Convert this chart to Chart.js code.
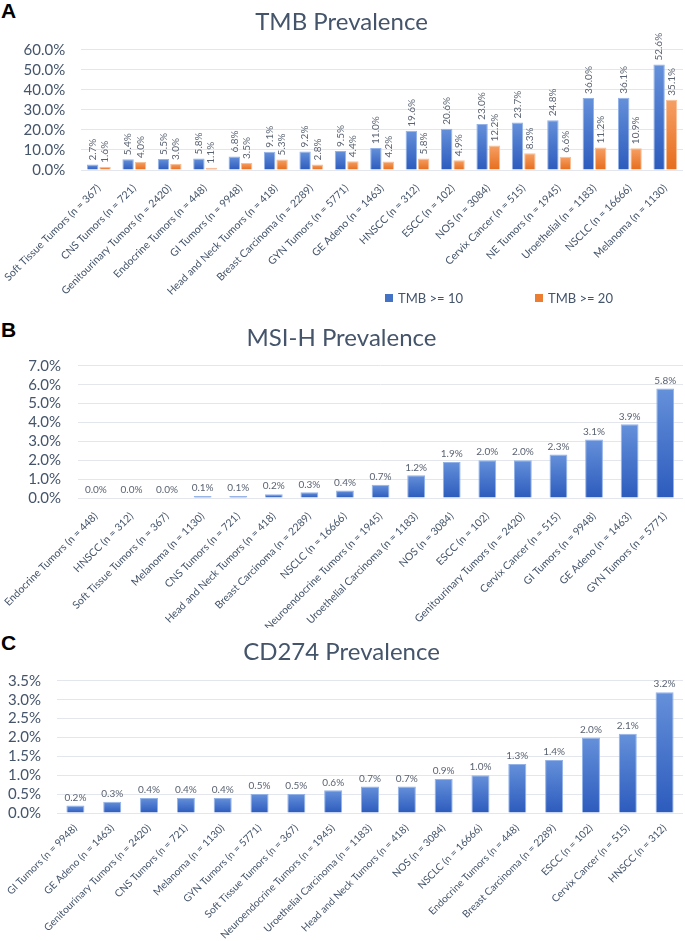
<!DOCTYPE html>
<html>
<head>
<meta charset="utf-8">
<script src="https://cdn.jsdelivr.net/npm/chart.js@4.4.1/dist/chart.umd.min.js"></script>
<style>
  body { margin: 0; background: #fff; width: 685px; height: 941px; position: relative; overflow: hidden; font-family: Lato, sans-serif; }
  canvas { position: absolute; left: 0; }
  .letter { position: absolute; left: 1px; font: bold 21px "Liberation Sans", Arial, sans-serif; line-height: 21px; color: #000; }
  .legend { position: absolute; top: 290px; left: 385px; display: flex; font: 13px Lato, sans-serif; color: #44546A; line-height: 16px; white-space: nowrap; }
  .legend span { display: flex; align-items: center; margin-right: 72px; }
  .legend i { display: inline-block; width: 8px; height: 8px; margin-right: 5px; }
</style>
</head>
<body>
<div class="letter" style="top:0px">A</div>
<div class="letter" style="top:319px">B</div>
<div class="letter" style="top:632px">C</div>
<canvas id="chart-tmb" width="685" height="312" style="top:0px"></canvas>
<div id="legend-tmb" class="legend"></div>
<canvas id="chart-msi" width="685" height="316" style="top:312px"></canvas>
<canvas id="chart-cd274" width="685" height="313" style="top:628px"></canvas>
<script>
const TEXT = '#44546A';
const GRID = '#e3e7ed';

// TMB panel
const tmbCategories = [
  'Soft Tissue Tumors (n = 367)', 'CNS Tumors (n = 721)', 'Genitourinary Tumors (n = 2420)',
  'Endocrine Tumors (n = 448)', 'GI Tumors (n = 9948)', 'Head and Neck Tumors (n = 418)',
  'Breast Carcinoma (n = 2289)', 'GYN Tumors (n = 5771)', 'GE Adeno (n = 1463)',
  'HNSCC (n = 312)', 'ESCC (n = 102)', 'NOS (n = 3084)', 'Cervix Cancer (n = 515)',
  'NE Tumors (n = 1945)', 'Uroethelial (n = 1183)', 'NSCLC (n = 16666)', 'Melanoma (n = 1130)',
];
const tmbSeries = ['TMB >= 10', 'TMB >= 20'];
const tmb10 = [2.7, 5.4, 5.5, 5.8, 6.8, 9.1, 9.2, 9.5, 11.0, 19.6, 20.6, 23.0, 23.7, 24.8, 36.0, 36.1, 52.6];
const tmb20 = [1.6, 4.0, 3.0, 1.1, 3.5, 5.3, 2.8, 4.4, 4.2, 5.8, 4.9, 12.2, 8.3, 6.6, 11.2, 10.9, 35.1];

// MSI-H panel
const msiCategories = [
  'Endocrine Tumors (n = 448)', 'HNSCC (n = 312)', 'Soft Tissue Tumors (n = 367)',
  'Melanoma (n = 1130)', 'CNS Tumors (n = 721)', 'Head and Neck Tumors (n = 418)',
  'Breast Carcinoma (n = 2289)', 'NSCLC (n = 16666)', 'Neuroendocrine Tumors (n = 1945)',
  'Uroethelial Carcinoma (n = 1183)', 'NOS (n = 3084)', 'ESCC (n = 102)',
  'Genitourinary Tumors (n = 2420)', 'Cervix Cancer (n = 515)', 'GI Tumors (n = 9948)',
  'GE Adeno (n = 1463)', 'GYN Tumors (n = 5771)',
];
const msiValues = [0.0, 0.0, 0.0, 0.1, 0.1, 0.2, 0.3, 0.4, 0.7, 1.2, 1.9, 2.0, 2.0, 2.3, 3.1, 3.9, 5.8];

// CD274 panel
const cdCategories = [
  'GI Tumors (n = 9948)', 'GE Adeno (n = 1463)', 'Genitourinary Tumors (n = 2420)',
  'CNS Tumors (n = 721)', 'Melanoma (n = 1130)', 'GYN Tumors (n = 5771)',
  'Soft Tissue Tumors (n = 367)', 'Neuroendocrine Tumors (n = 1945)',
  'Uroethelial Carcinoma (n = 1183)', 'Head and Neck Tumors (n = 418)', 'NOS (n = 3084)',
  'NSCLC (n = 16666)', 'Endocrine Tumors (n = 448)', 'Breast Carcinoma (n = 2289)',
  'ESCC (n = 102)', 'Cervix Cancer (n = 515)', 'HNSCC (n = 312)',
];
const cdValues = [0.2, 0.3, 0.4, 0.4, 0.4, 0.5, 0.5, 0.6, 0.7, 0.7, 0.9, 1.0, 1.3, 1.4, 2.0, 2.1, 3.2];

const BLUE = { top: '#6590da', bottom: '#2c5bbd', line: '#93b3e8', key: '#4472C4' };
const ORANGE = { top: '#f6a065', bottom: '#e66d1c', line: '#f7bf96', key: '#ED7D31' };

// each bar gets its own top-to-bottom gradient
function barFill(c) {
  return (ctx) => {
    const chart = ctx.chart;
    if (!chart.chartArea || ctx.type !== 'data') return c.bottom;
    const y = chart.scales.y;
    const y0 = y.getPixelForValue(ctx.raw);
    const y1 = y.getPixelForValue(0);
    if (y1 - y0 < 1) return c.bottom;
    const g = chart.ctx.createLinearGradient(0, y0, 0, y1);
    g.addColorStop(0, c.top);
    g.addColorStop(1, c.bottom);
    return g;
  };
}

const valueLabels = {
  id: 'valueLabels',
  afterDatasetsDraw(chart, args, opts) {
    const ctx = chart.ctx;
    ctx.save();
    ctx.font = '10px Lato';
    ctx.fillStyle = '#5a6372';
    chart.data.datasets.forEach((ds, i) => {
      chart.getDatasetMeta(i).data.forEach((bar, j) => {
        const text = ds.data[j].toFixed(1) + '%';
        if (opts.rotate) {
          ctx.save();
          ctx.translate(bar.x, bar.y - 4);
          ctx.rotate(-Math.PI / 2);
          ctx.textAlign = 'left';
          ctx.textBaseline = 'middle';
          ctx.fillText(text, 0, 0);
          ctx.restore();
        } else {
          ctx.textAlign = 'center';
          ctx.textBaseline = 'bottom';
          ctx.fillText(text, bar.x, bar.y - 3);
        }
      });
    });
    ctx.restore();
  },
};

function dataset(label, data, c, barPct, catPct) {
  return {
    label, data,
    backgroundColor: barFill(c),
    borderColor: c.line,
    borderWidth: 1,
    barPercentage: barPct,
    categoryPercentage: catPct,
  };
}

function makeChart(id, cfg) {
  return new Chart(document.getElementById(id), {
    type: 'bar',
    data: { labels: cfg.labels, datasets: cfg.datasets },
    options: {
      responsive: false,
      animation: false,
      layout: { autoPadding: false, padding: { right: 2 } },
      scales: {
        x: {
          grid: { display: false },
          border: { display: false },
          ticks: {
            color: TEXT, font: { family: 'Lato', size: cfg.xFont || 10.5 },
            minRotation: 45, maxRotation: 45, autoSkip: false, padding: cfg.xPad ?? 4,
          },
          afterFit: (s) => { s.height = cfg.xHeight; },
        },
        y: {
          min: 0,
          max: cfg.max,
          ticks: {
            stepSize: cfg.step, autoSkip: false, color: TEXT, font: { family: 'Lato', size: 15 }, padding: cfg.yPad,
            callback: (v) => v.toFixed(1) + '%',
          },
          grid: { color: GRID, drawTicks: false },
          border: { display: false },
          afterFit: (s) => { s.width = cfg.yWidth; },
        },
      },
      plugins: {
        legend: { display: false },
        tooltip: { enabled: false },
        title: {
          display: true, text: cfg.title, color: TEXT,
          font: { family: 'Lato', size: 24, weight: 'normal' },
          padding: cfg.titlePad,
        },
        valueLabels: { rotate: cfg.rotate },
      },
    },
    plugins: [valueLabels],
  });
}

makeChart('chart-tmb', {
  labels: tmbCategories,
  datasets: [
    dataset(tmbSeries[0], tmb10, BLUE, 0.92, 0.7),
    dataset(tmbSeries[1], tmb20, ORANGE, 0.92, 0.7),
  ],
  title: 'TMB Prevalence', titlePad: { top: 8, bottom: 13 },
  max: 60, step: 10, yWidth: 78, yPad: 16, xHeight: 142, rotate: true,
});

makeChart('chart-msi', {
  labels: msiCategories,
  datasets: [dataset('MSI-H', msiValues, BLUE, 1, 0.5)],
  title: 'MSI-H Prevalence', titlePad: { top: 12, bottom: 13 },
  max: 7, step: 1, yWidth: 77, yPad: 17, xHeight: 130, rotate: false,
});

makeChart('chart-cd274', {
  labels: cdCategories,
  datasets: [dataset('CD274', cdValues, BLUE, 1, 0.49)],
  title: 'CD274 Prevalence', titlePad: { top: 10, bottom: 14 },
  max: 3.5, step: 0.5, yWidth: 57, yPad: 16, xHeight: 128, xFont: 10.2, xPad: 1, rotate: false,
});

const legend = document.getElementById('legend-tmb');
[BLUE, ORANGE].forEach((c, i) => {
  const item = document.createElement('span');
  item.innerHTML = '<i style="background:' + c.key + '"></i>' + tmbSeries[i];
  legend.appendChild(item);
});
</script>
</body>
</html>
